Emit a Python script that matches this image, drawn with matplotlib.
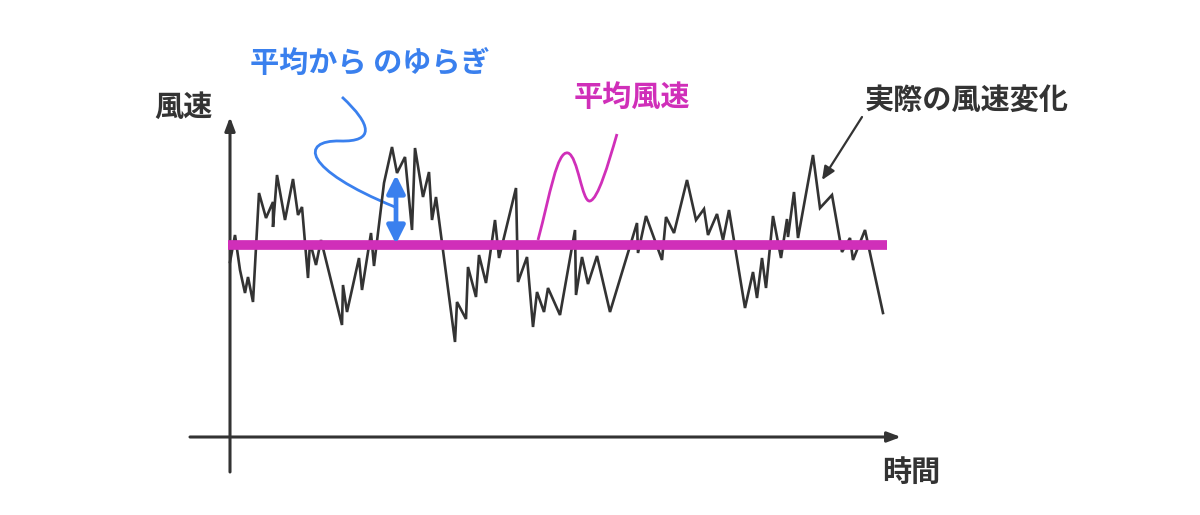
import matplotlib.pyplot as plt
from matplotlib.path import Path
from matplotlib.patches import PathPatch

plt.rcParams['font.family'] = ['Noto Sans CJK JP', 'DejaVu Sans']

# wind speed trace (time, speed)
time = [0, 5, 10, 15, 18, 23, 29, 36, 43, 43, 47, 55, 63, 68, 72, 78, 80, 86, 91,
        112, 113, 117, 129, 132, 141, 144, 154, 162, 167, 175, 182, 185, 193, 199,
        202, 206, 225, 227, 236, 238, 246, 249, 256, 265, 269, 286, 288, 297, 303,
        307, 314, 318, 330, 345, 346, 352, 358, 367, 380, 407, 408, 416, 432, 436,
        444, 457, 466, 474, 478, 487, 493, 499, 515, 523, 527, 532, 536, 543, 551,
        557, 558, 564, 568, 583, 590, 602, 612, 620, 623, 635, 653]
speed = [175, 202, 167, 144, 160, 135, 244, 219, 235, 210, 262, 217, 258, 222, 230,
         159, 195, 172, 197, 112, 152, 125, 179, 147, 204, 171, 254, 290, 264, 280,
         207, 289, 240, 265, 217, 240, 95, 135, 118, 170, 140, 182, 154, 217, 179,
         249, 155, 180, 110, 145, 125, 149, 122, 207, 142, 180, 153, 181, 125, 214,
         184, 221, 177, 220, 204, 257, 217, 228, 202, 223, 197, 227, 129, 165, 139,
         179, 149, 221, 179, 218, 200, 245, 199, 282, 229, 242, 185, 199, 177, 207, 124]
mean_speed = 192
mean_span = [-2, 657]
sample_t = 166
sample_peak = 262

dark = '#333333'
magenta = '#D02FB9'
blue = '#3A80EE'

fig = plt.figure(figsize=(12, 5.15), dpi=100)
ax = fig.add_axes([0, 0, 1, 1])
ax.set_xlim(-230, 970)
ax.set_ylim(-78, 437)
ax.axis('off')

# axes arrows
ax.annotate('', xy=(0, 320), xytext=(0, -35),
            arrowprops=dict(arrowstyle='-|>,head_length=0.8,head_width=0.3',
                            lw=2.2, color=dark, shrinkA=0, shrinkB=0))
ax.annotate('', xy=(671, 0), xytext=(-40, 0),
            arrowprops=dict(arrowstyle='-|>,head_length=0.8,head_width=0.3',
                            lw=2.2, color=dark, shrinkA=0, shrinkB=0))

ax.plot(time, speed, color=dark, lw=1.9, solid_joinstyle='miter', zorder=3)
ax.plot(mean_span, [mean_speed, mean_speed], color=magenta, lw=7, zorder=4,
        solid_capstyle='butt')

# deviation arrow
ax.annotate('', xy=(sample_t, sample_peak), xytext=(sample_t, mean_speed + 1),
            arrowprops=dict(arrowstyle='<|-|>,head_length=0.9,head_width=0.45',
                            lw=3.4, color=blue, shrinkA=0, shrinkB=0,
                            mutation_scale=12), zorder=5)

# wavy leader lines
blue_path = Path([(112, 340), (142, 312), (145, 295), (110, 296),
                  (70, 297), (72, 268), (165, 230)],
                 [Path.MOVETO, Path.CURVE4, Path.CURVE4, Path.CURVE4,
                  Path.CURVE4, Path.CURVE4, Path.CURVE4])
ax.add_patch(PathPatch(blue_path, fc='none', ec=blue, lw=2))

mag_path = Path([(308, 197), (320, 242), (327, 287), (338, 284),
                 (348, 281), (352, 234), (360, 236),
                 (368, 238), (378, 272), (387, 303)],
                [Path.MOVETO, Path.CURVE4, Path.CURVE4, Path.CURVE4,
                 Path.CURVE4, Path.CURVE4, Path.CURVE4,
                 Path.CURVE4, Path.CURVE4, Path.CURVE4])
ax.add_patch(PathPatch(mag_path, fc='none', ec=magenta, lw=2))

ax.annotate('', xy=(592, 257), xytext=(632, 320),
            arrowprops=dict(arrowstyle='-|>,head_length=0.8,head_width=0.35',
                            lw=1.6, color=dark, shrinkA=0, shrinkB=0))

fs = 21
ax.text(-47, 330, '風速', fontsize=fs, color=dark, ha='center', va='center', weight='bold')
ax.text(681, -35, '時間', fontsize=fs, color=dark, ha='center', va='center', weight='bold')
ax.text(737, 337, '実際の風速変化', fontsize=fs, color=dark, ha='center', va='center', weight='bold')
ax.text(402, 340, '平均風速', fontsize=fs, color=magenta, ha='center', va='center', weight='bold')
ax.text(140, 374, '平均から のゆらぎ', fontsize=fs, color=blue, ha='center', va='center', weight='bold')

fig.savefig('out.png', dpi=100)
